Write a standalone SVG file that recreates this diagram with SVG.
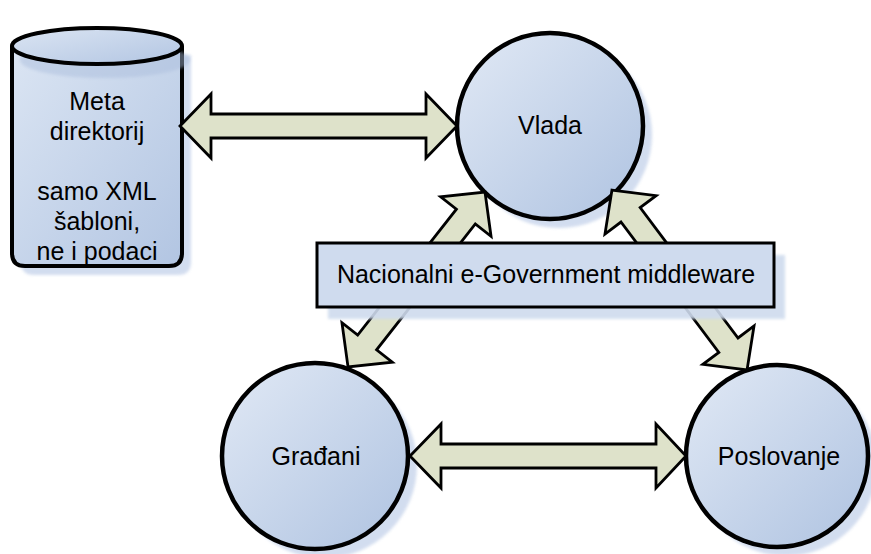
<svg xmlns="http://www.w3.org/2000/svg" width="871" height="554" viewBox="0 0 871 554">
  <defs>
    <linearGradient id="gBlue" x1="0" y1="0" x2="1" y2="1">
      <stop offset="0" stop-color="#e1e9f5"/>
      <stop offset="1" stop-color="#afc3e1"/>
    </linearGradient>
    <linearGradient id="gCyl" x1="0" y1="0" x2="1" y2="1">
      <stop offset="0" stop-color="#dbe5f3"/>
      <stop offset="1" stop-color="#b2c5e2"/>
    </linearGradient>
    <filter id="soft" x="-10%" y="-10%" width="120%" height="120%">
      <feGaussianBlur stdDeviation="1.5"/>
    </filter>
    <polygon id="arrH" points="0,0 31,-32 31,-12 -31,-12 -31,-32 0,0"/>
  </defs>
  <style>
    .shadow { fill: #c4d2ea; opacity: 0.75; filter: url(#soft); }
    .node { fill: url(#gBlue); stroke: #000; stroke-width: 4.5; }
    .cyl { fill: url(#gCyl); stroke: #000; stroke-width: 4; }
    .box { fill: #cfdbee; stroke: #000; stroke-width: 3; }
    .arrow { fill: #dee2ca; stroke: #000; stroke-width: 2.8; stroke-linejoin: miter; }
    .lbl { font-family: "Liberation Sans", Arial, sans-serif; font-size: 25px; fill: #000; text-anchor: middle; }
  </style>

  <!-- Meta directory cylinder -->
  <g id="meta-direktorij">
    <path class="shadow" d="M21,55 L21,262 Q21,275 34,275 L178,275 Q191,275 191,262 L191,55 Z"/>
    <path class="cyl" d="M12,46 L12,253 Q12,266 25,266 L169,266 Q182,266 182,253 L182,46"/>
    <ellipse cx="105" cy="60" rx="85" ry="18" fill="#a9bcdb" opacity="0.45" filter="url(#soft)"/>
    <ellipse class="cyl" cx="97" cy="46" rx="85" ry="18"/>
    <text class="lbl" x="97" y="110">Meta</text>
    <text class="lbl" x="97" y="140">direktorij</text>
    <text class="lbl" x="97" y="200">samo XML</text>
    <text class="lbl" x="97" y="230">šabloni,</text>
    <text class="lbl" x="97" y="260">ne i podaci</text>
  </g>

  <!-- Circle nodes -->
  <g id="vlada">
    <circle class="shadow" cx="559" cy="135" r="93"/>
    <circle class="node" cx="550" cy="126" r="93"/>
    <text class="lbl" x="550" y="134">Vlada</text>
  </g>
  <g id="gradani">
    <circle class="shadow" cx="324" cy="465" r="93"/>
    <circle class="node" cx="315" cy="456" r="93"/>
    <text class="lbl" x="316" y="465">Građani</text>
  </g>
  <g id="poslovanje">
    <circle class="shadow" cx="786" cy="465" r="91"/>
    <circle class="node" cx="777" cy="456" r="91"/>
    <text class="lbl" x="779" y="465">Poslovanje</text>
  </g>

  <!-- Connectors (double arrows) -->
  <g id="connectors">
    <polygon class="arrow" transform="translate(318.5,126)" points="-138.5,0 -107.5,-32 -107.5,-12 107.5,-12 107.5,-32 138.5,0 107.5,32 107.5,12 -107.5,12 -107.5,32"/>
    <polygon class="arrow" transform="translate(548,456)" points="-138,0 -107,-32 -107,-12 108,-12 108,-32 138,0 108,32 108,12 -107,12 -107,32"/>
    <polygon class="arrow" transform="translate(416.5,279.5) rotate(-51.9)" points="-111,0 -80,-32 -80,-12 80,-12 80,-32 111,0 80,32 80,12 -80,12 -80,32"/>
    <polygon class="arrow" transform="translate(679.5,280) rotate(53.1)" points="-112.5,0 -81.5,-32 -81.5,-12 81.5,-12 81.5,-32 112.5,0 81.5,32 81.5,12 -81.5,12 -81.5,32"/>
  </g>

  <!-- Middleware bar -->
  <g id="middleware">
    <rect x="328" y="255" width="457" height="64" fill="#cfdbee" opacity="0.9" filter="url(#soft)"/>
    <rect class="box" x="317" y="243" width="457" height="64"/>
    <text class="lbl" x="546" y="283">Nacionalni e-Government middleware</text>
  </g>
</svg>
